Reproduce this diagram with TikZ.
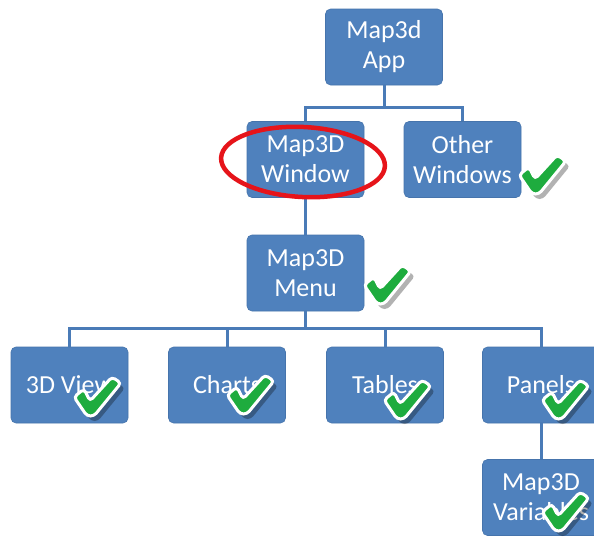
\documentclass[tikz,border=0pt]{standalone}
\usepackage{fontspec}
\setmainfont{Carlito}
\definecolor{boxblue}{RGB}{79,129,189}
\definecolor{boxedge}{RGB}{70,116,172}
\definecolor{linkblue}{RGB}{74,123,183}
\definecolor{tickgreen}{RGB}{30,172,62}
\definecolor{ringred}{RGB}{230,20,26}
\tikzset{
  chkpath/.style={rounded corners=3.5pt},
  orgbox/.style={rectangle, rounded corners=5pt, fill=boxblue, draw=boxedge, line width=0.6pt,
    minimum width=117pt, minimum height=76pt, text=white, align=center,
    font=\fontsize{26}{30}\selectfont, inner sep=0pt},
  link/.style={draw=linkblue, line width=3pt},
  chk/.pic={
    \fill[black, opacity=0.3, chkpath, shift={(4,5)}]
      (-16,-17) -- (-6,-25) -- (0,-13) -- (22,-37) -- (31,-31) -- (4,2) -- (-3,2) -- cycle;
    \filldraw[fill=tickgreen, draw=white, line width=3pt, chkpath]
      (-16,-17) -- (-6,-25) -- (0,-13) -- (22,-37) -- (31,-31) -- (4,2) -- (-3,2) -- cycle;
  }
}
\begin{document}
\begin{tikzpicture}[x=1pt, y=-1pt]
\useasboundingbox (0,0) rectangle (594,536);
\clip (0,0) rectangle (594,536);
\fill[white] (0,0) rectangle (594,536);
\node[orgbox] (app) at (384,47) {Map3d\\App};
\node[orgbox] (win) at (305.5,159.5) {Map3D\\Window};
\node[orgbox] (oth) at (462.5,159.5) {Other\\Windows};
\node[orgbox] (menu) at (305.5,273) {Map3D\\Menu};
\node[orgbox] (view) at (69.5,385) {3D View};
\node[orgbox] (charts) at (227,385) {Charts};
\node[orgbox] (tables) at (385,385) {Tables};
\node[orgbox] (panels) at (541,385) {Panels};
\node[orgbox] (vars) at (541,497.5) {Map3D\\Variables};
% connectors
\draw[link] (app.south) -- ++(0,22) -| (win.north);
\draw[link] (app.south) ++(0,22) -| (oth.north);
\draw[link] (win.south) -- (menu.north);
\draw[link] (menu.south) -- ++(0,17) -| (view.north);
\draw[link] (menu.south) ++(0,17) -| (charts.north);
\draw[link] (menu.south) ++(0,17) -| (tables.north);
\draw[link] (menu.south) ++(0,17) -| (panels.north);
\draw[link] (panels.south) -- (vars.north);
% red ring
\draw[ringred, line width=4.5pt, rotate around={-3:(303,162)}] (303,162) ellipse [x radius=82, y radius=35];
% ticks
\pic at (535,192) {chk};
\pic at (380,302) {chk};
\pic at (90,414) {chk};
\pic at (243,412) {chk};
\pic at (400,417) {chk};
\pic at (558,417) {chk};
\pic at (558,529) {chk};
\end{tikzpicture}
\end{document}
